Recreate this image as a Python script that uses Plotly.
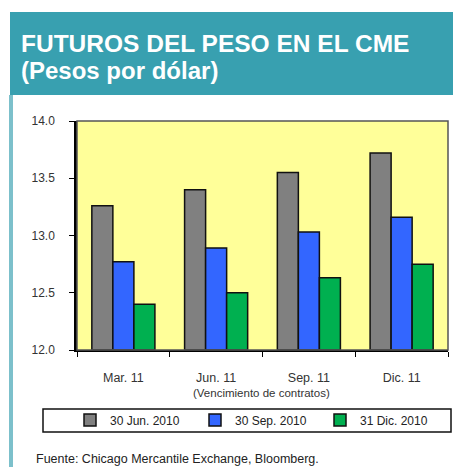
import plotly.graph_objects as go

# contract maturities and futures quotes (pesos per dollar)
categories = ["Mar. 11", "Jun. 11", "Sep. 11", "Dic. 11"]
jun_2010 = [13.26, 13.40, 13.55, 13.72]
sep_2010 = [12.77, 12.89, 13.03, 13.16]
dic_2010 = [12.40, 12.50, 12.63, 12.75]
series_names = ["30 Jun. 2010", "30 Sep. 2010", "31 Dic. 2010"]
series_colors = ["#808080", "#3366ff", "#00b050"]

# page body keeps an 8px margin, so the figure sits at (8, 8) in the window
OFF = 8
W, H = 461 - OFF, 467 - OFF
L, R, T, B = 77 - OFF, 13, 121 - OFF, 467 - 350
PW, PH = W - L - R, H - T - B


def px(x):
    # window pixel -> paper x
    return (x - OFF - L) / PW


def py(y):
    # window pixel -> paper y
    return (H - B - (y - OFF)) / PH


fig = go.Figure()
for name, vals, col in zip(series_names, [jun_2010, sep_2010, dic_2010], series_colors):
    fig.add_trace(go.Bar(x=categories, y=[v - 12 for v in vals], base=12, name=name,
                         marker=dict(color=col, line=dict(color="#111", width=1.5))))

font = "Liberation Sans, Arial, sans-serif"
shapes = [
    # teal header band and left rule
    dict(type="rect", xref="paper", yref="paper", x0=px(10), x1=px(470), y0=py(95), y1=py(12),
         fillcolor="#38a0b0", line=dict(width=0), layer="below"),
    dict(type="rect", xref="paper", yref="paper", x0=px(9), x1=px(13), y0=py(480), y1=py(95),
         fillcolor="#7cc0cb", line=dict(width=0), layer="below"),
    # plot frame
    dict(type="rect", xref="paper", yref="paper", x0=0, x1=1, y0=0, y1=1,
         line=dict(color="#555", width=1.5)),
    # legend box
    dict(type="rect", xref="paper", yref="paper", x0=px(43), x1=px(451), y0=py(432), y1=py(409),
         line=dict(color="#111", width=1.5)),
]
annotations = [
    dict(text="<b>FUTUROS DEL PESO EN EL CME</b>", x=px(19), y=py(43), xref="paper", yref="paper",
         xanchor="left", yanchor="middle", showarrow=False,
         font=dict(family=font, size=24.5, color="white")),
    dict(text="<b>(Pesos por dólar)</b>", x=px(19), y=py(71), xref="paper", yref="paper",
         xanchor="left", yanchor="middle", showarrow=False,
         font=dict(family=font, size=24, color="white")),
    dict(text="(Vencimiento de contratos)", x=px(261), y=py(393), xref="paper", yref="paper",
         xanchor="center", yanchor="middle", showarrow=False,
         font=dict(family=font, size=11.5, color="#333")),
    dict(text="Fuente: Chicago Mercantile Exchange, Bloomberg.", x=px(34), y=py(459), xref="paper",
         yref="paper", xanchor="left", yanchor="middle", showarrow=False,
         font=dict(family=font, size=12.5, color="#222")),
]

fig.update_layout(
    width=W, height=H, margin=dict(l=L, r=R, t=T, b=B),
    paper_bgcolor="white", plot_bgcolor="#ffff99",
    barmode="group", bargap=0.32, bargroupgap=0,
    font=dict(family=font, size=12, color="#333"),
    shapes=shapes, annotations=annotations,
    legend=dict(orientation="h", x=px(70), y=py(420), xanchor="left", yanchor="middle",
                bgcolor="rgba(0,0,0,0)", font=dict(size=12, color="#222"),
                entrywidth=80, entrywidthmode="pixels"),
)
fig.update_xaxes(showline=True, linecolor="black", linewidth=2, ticks="outside", ticklen=5,
                 tickcolor="black", tickson="boundaries", ticklabelstandoff=15,
                 tickfont=dict(size=12.5, color="#333"))
fig.update_yaxes(range=[12, 14], dtick=0.5, tickformat=".1f", showgrid=False, zeroline=False,
                 showline=True, linecolor="black", linewidth=2.5, ticks="outside", ticklen=5,
                 tickcolor="black", ticklabelstandoff=12, tickfont=dict(size=12, color="#333"))

fig.write_html("out.html")
